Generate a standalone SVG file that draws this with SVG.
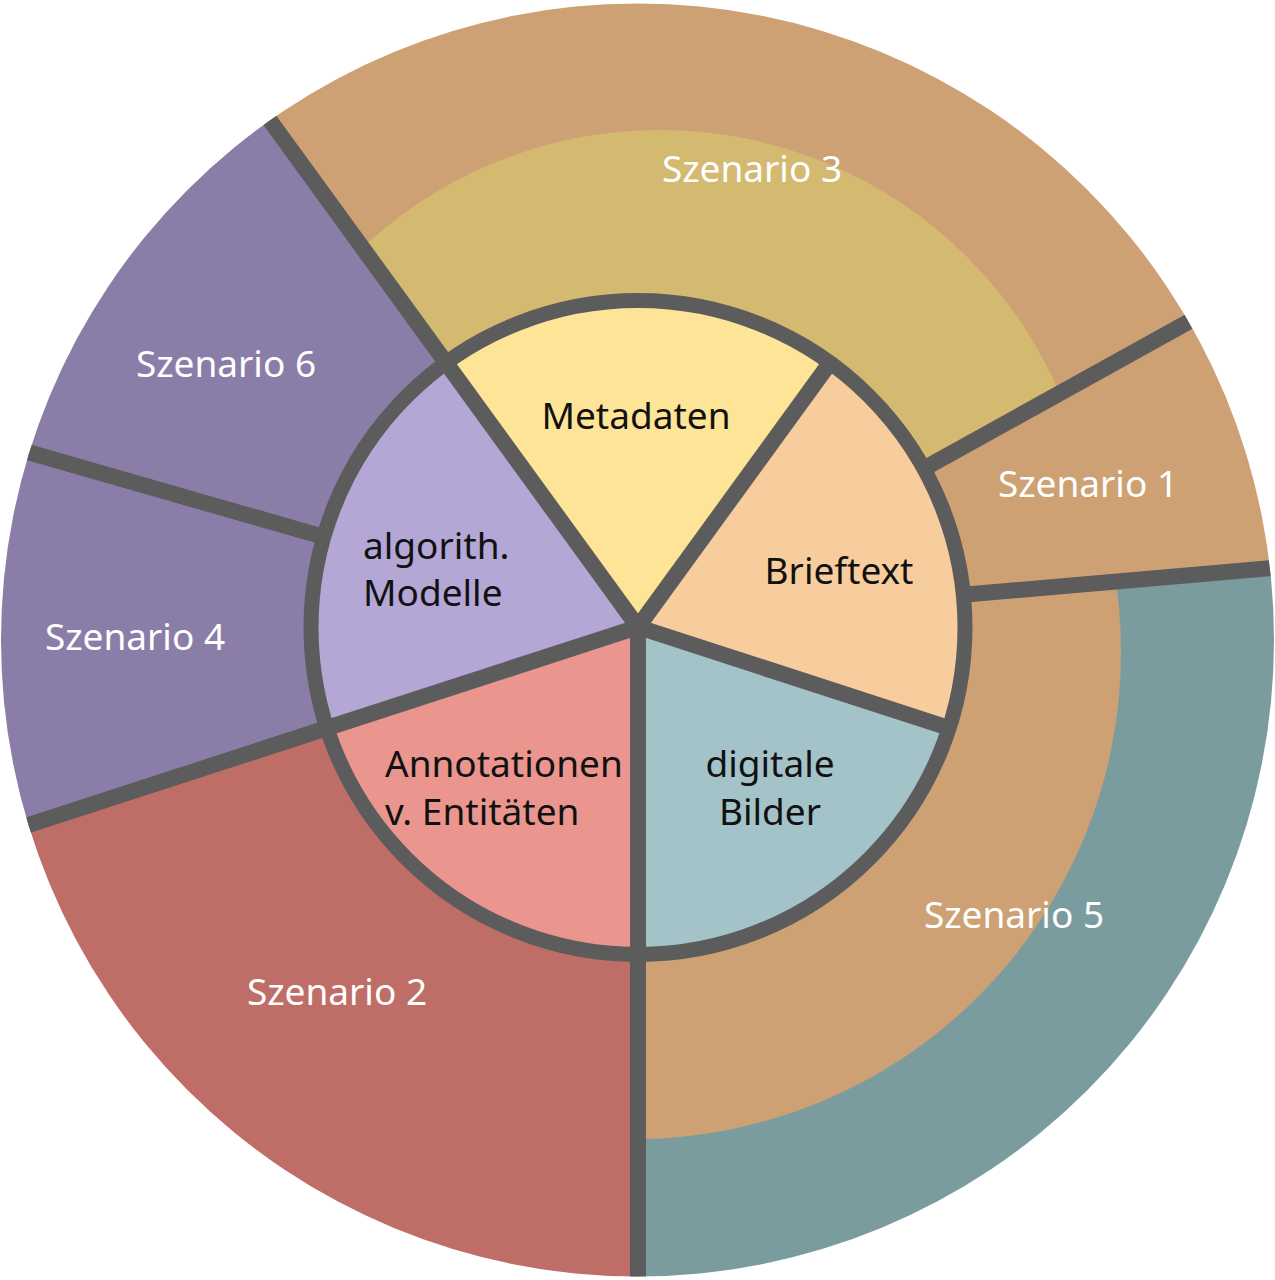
<svg xmlns="http://www.w3.org/2000/svg" width="1275" height="1280" viewBox="0 0 1275 1280">
<style>
.lbl{font-family:"Noto Sans","Open Sans","DejaVu Sans",sans-serif;font-size:37px;}
.w{fill:#FFFFFF;text-anchor:middle;}
.b{fill:#111111;}
.c{text-anchor:middle;}
.sep{stroke:#5C5C5C;stroke-width:16;fill:none;}
</style>
<defs>
<clipPath id="outerClip"><circle cx="637.5" cy="640" r="636.5"/></clipPath>
<clipPath id="s3Clip"><path d="M638,627 L1512.6,142.2 A1000,1000 0 0 0 50.2,-182 Z"/></clipPath>
<clipPath id="s5Clip"><path d="M638,627 L638,1627 A1000,1000 0 0 0 1400,557 L960,595 Z"/></clipPath>
</defs>
<rect x="0" y="0" width="1275" height="1280" fill="#FFFFFF"/>
<g clip-path="url(#outerClip)">
<g id="szenario1"><path d="M638,627 L960,595 L1400,557 L1512.6,142.2 Z" fill="#CDA174"/></g>
<g id="szenario3"><path d="M638,627 L1512.6,142.2 A1000,1000 0 0 0 50.2,-182 Z" fill="#CDA174"/><circle cx="660" cy="565" r="435" fill="#D3BA70" clip-path="url(#s3Clip)"/></g>
<g id="szenario6"><path d="M638,627 L50.2,-182 A1000,1000 0 0 0 -323.3,351.4 Z" fill="#8A7EA9"/></g>
<g id="szenario4"><path d="M638,627 L-323.3,351.4 A1000,1000 0 0 0 -313.1,936 Z" fill="#8A7EA9"/></g>
<g id="szenario2"><path d="M638,627 L-313.1,936 A1000,1000 0 0 0 638,1627 Z" fill="#BF6D67"/></g>
<g id="szenario5"><path d="M638,627 L638,1627 A1000,1000 0 0 0 1400,557 L960,595 Z" fill="#7B9C9F"/><circle cx="634" cy="652" r="487" fill="#CDA174" clip-path="url(#s5Clip)"/></g>
<g id="metadaten"><path d="M638,627 L830.2,362.5 A327,327 0 0 0 445.8,362.5 Z" fill="#FEE497"/></g>
<g id="modelle"><path d="M638,627 L445.8,362.5 A327,327 0 0 0 327,728 Z" fill="#B4A6D5"/></g>
<g id="annotationen"><path d="M638,627 L327,728 A327,327 0 0 0 638,954 Z" fill="#EA958E"/></g>
<g id="bilder"><path d="M638,627 L638,954 A327,327 0 0 0 949,728 Z" fill="#A4C3C8"/></g>
<g id="brieftext"><path d="M638,627 L949,728 A327,327 0 0 0 830.2,362.5 Z" fill="#F8CD9D"/></g>
<g id="connectors">
<line class="sep" x1="638" y1="627" x2="50.2" y2="-182"/>
<line class="sep" x1="638" y1="627" x2="-313.1" y2="936"/>
<line class="sep" x1="638" y1="627" x2="638" y2="1627"/>
<line class="sep" x1="638" y1="627" x2="830.2" y2="362.5"/>
<line class="sep" x1="638" y1="627" x2="949" y2="728"/>
<line class="sep" x1="323.7" y1="536.9" x2="-323.3" y2="351.4"/>
<line class="sep" x1="924" y1="468.5" x2="1512.6" y2="142.2"/>
<line class="sep" x1="960" y1="595" x2="1400" y2="557"/>
<circle cx="638" cy="627.5" r="327" fill="none" stroke="#5C5C5C" stroke-width="15"/>
<circle cx="638" cy="627" r="9" fill="#5C5C5C"/>
</g>
</g>
<g id="labels">
<text class="lbl w" x="752" y="182">Szenario 3</text>
<text class="lbl w" x="1088" y="497">Szenario 1</text>
<text class="lbl w" x="1014" y="928">Szenario 5</text>
<text class="lbl w" x="337" y="1005">Szenario 2</text>
<text class="lbl w" x="226" y="377">Szenario 6</text>
<text class="lbl w" x="135" y="650">Szenario 4</text>
<text class="lbl b c" x="636" y="429">Metadaten</text>
<text class="lbl b c" x="839" y="584">Brieftext</text>
<text class="lbl b" x="363" y="559">algorith.</text>
<text class="lbl b" x="363" y="606">Modelle</text>
<text class="lbl b" x="385" y="777">Annotationen</text>
<text class="lbl b" x="385" y="825">v. Entitäten</text>
<text class="lbl b c" x="770" y="777">digitale</text>
<text class="lbl b c" x="770" y="825">Bilder</text>
</g>
</svg>
